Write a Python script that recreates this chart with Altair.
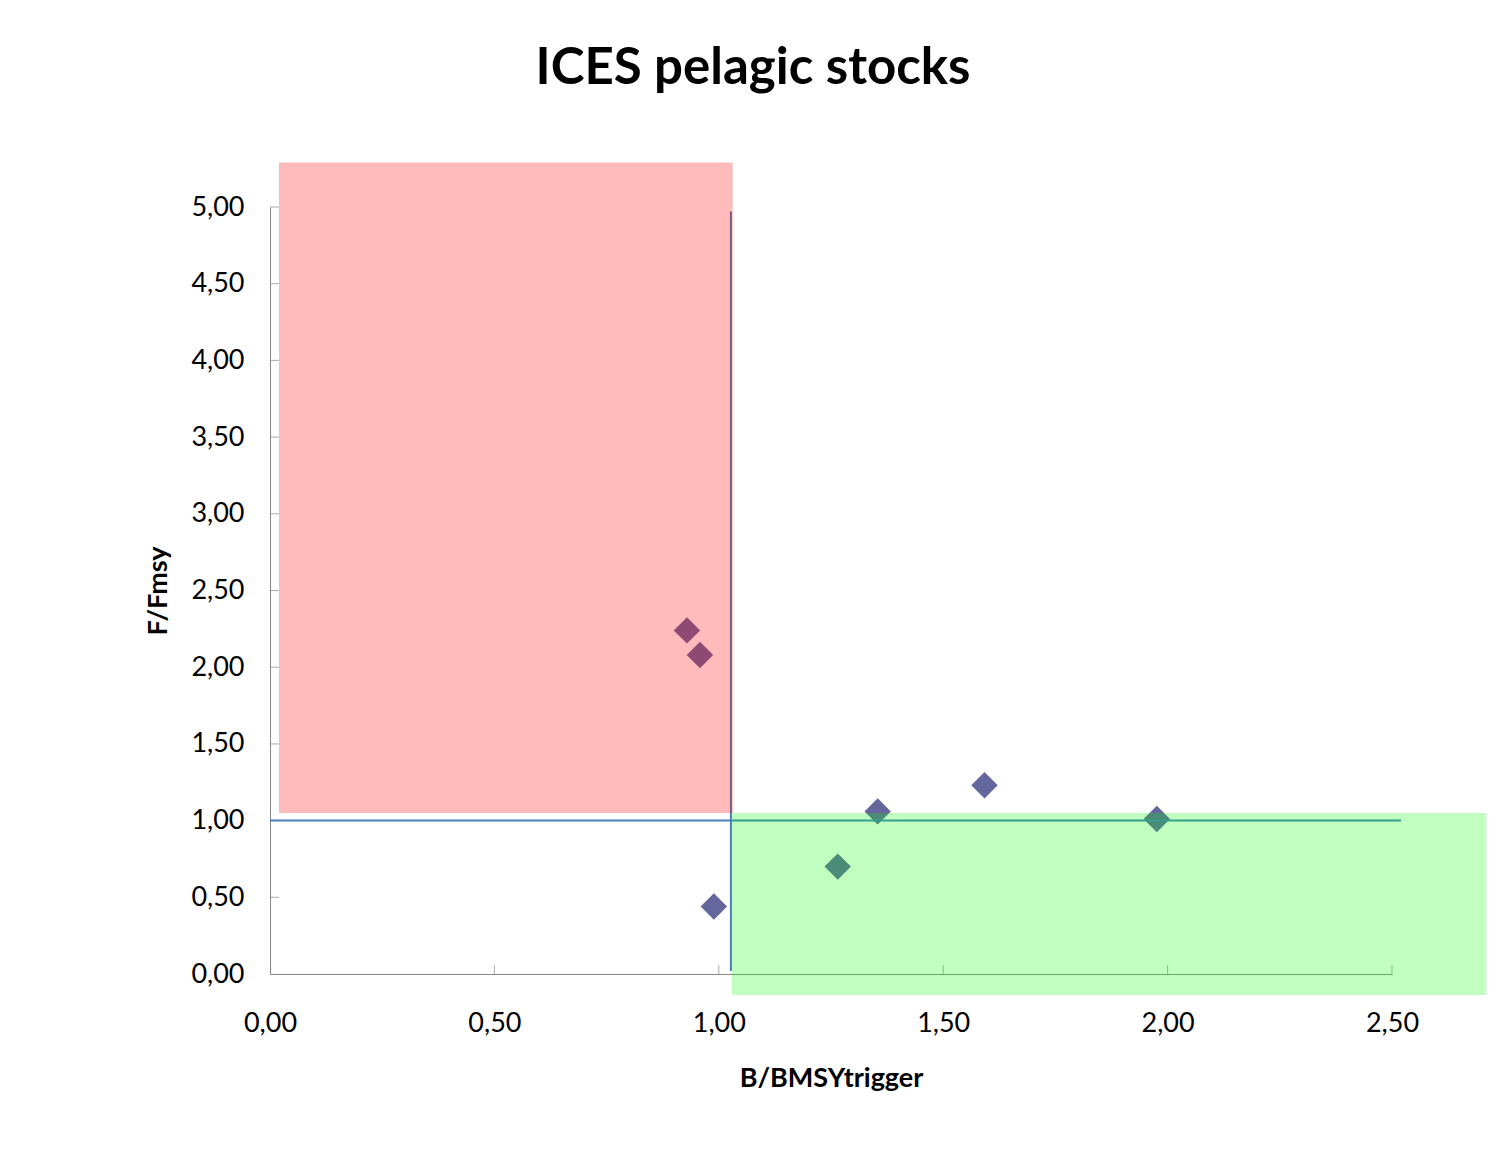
import altair as alt
import pandas as pd

# stock points (B/BMSYtrigger, F/Fmsy)
stock_b = [0.929, 0.958, 0.989, 1.265, 1.354, 1.592, 1.976]
stock_f = [2.24, 2.08, 0.44, 0.70, 1.06, 1.23, 1.01]

x_ticks = [0.0, 0.5, 1.0, 1.5, 2.0, 2.5]
y_ticks = [0.0, 0.5, 1.0, 1.5, 2.0, 2.5, 3.0, 3.5, 4.0, 4.5, 5.0]

# shaded zones
zone_x1 = [0.02, 1.029]
zone_x2 = [1.031, 2.71]
zone_y1 = [1.05, -0.137]
zone_y2 = [5.29, 1.05]
zone_color = ["#FF0000", "#00FF00"]
zone_opacity = [0.267, 0.247]

# reference lines
hline_y = 1.0
hline_x = [0.0, 2.52]
vline_x = 1.027
vline_y = [0.02, 4.97]

fmt = "replace(format(datum.value, '.2f'), '.', ',')"
FONT = "Lato"

xs = alt.Scale(domain=[0, 2.5], nice=False, zero=False)
ys = alt.Scale(domain=[0, 5], nice=False, zero=False)

pts = pd.DataFrame({"b": stock_b, "f": stock_f})
points = alt.Chart(pts).mark_point(
    shape="diamond", filled=True, size=700, color="#66669E", opacity=1, clip=False
).encode(
    x=alt.X("b:Q", scale=xs, axis=alt.Axis(
        title="B/BMSYtrigger", values=x_ticks, labelExpr=fmt, ticks=False, grid=False,
        labelFlush=False,
        domainColor="#868686", labelFont=FONT, labelFontSize=27, labelColor="#000000",
        labelPadding=36, titleFont=FONT, titleFontSize=27, titleFontWeight="bold",
        titleColor="#000000", titlePadding=29)),
    y=alt.Y("f:Q", scale=ys, axis=alt.Axis(
        title="F/Fmsy", values=y_ticks, labelExpr=fmt, ticks=False, grid=False,
        labelFlush=False,
        domainColor="#868686", labelFont=FONT, labelFontSize=27, labelColor="#000000",
        labelPadding=26, titleFont=FONT, titleFontSize=27, titleFontWeight="bold",
        titleColor="#000000", titlePadding=18)),
)

xt = alt.Chart(pd.DataFrame({"v": x_ticks[1:]})).mark_tick(
    orient="vertical", size=9, thickness=1, color="#868686", yOffset=-4.5, clip=False
).encode(x=alt.X("v:Q", scale=xs), y=alt.datum(0, scale=ys))

yt = alt.Chart(pd.DataFrame({"v": y_ticks[1:]})).mark_tick(
    orient="horizontal", size=9, thickness=1, color="#868686", xOffset=4.5, clip=False
).encode(y=alt.Y("v:Q", scale=ys), x=alt.datum(0, scale=xs))

hl = alt.Chart(pd.DataFrame({"x1": [hline_x[0]], "x2": [hline_x[1]], "y": [hline_y]})).mark_rule(
    color="#4A7EBB", strokeWidth=2, clip=False
).encode(x=alt.X("x1:Q", scale=xs), x2="x2:Q", y=alt.Y("y:Q", scale=ys))

vl = alt.Chart(pd.DataFrame({"x": [vline_x], "y1": [vline_y[0]], "y2": [vline_y[1]]})).mark_rule(
    color="#4A7EBB", strokeWidth=2, clip=False
).encode(x=alt.X("x:Q", scale=xs), y=alt.Y("y1:Q", scale=ys), y2="y2:Q")

zones = pd.DataFrame({"x1": zone_x1, "x2": zone_x2, "y1": zone_y1, "y2": zone_y2,
                      "c": zone_color, "o": zone_opacity})
rects = alt.Chart(zones).mark_rect(clip=False).encode(
    x=alt.X("x1:Q", scale=xs), x2="x2:Q",
    y=alt.Y("y1:Q", scale=ys), y2="y2:Q",
    color=alt.Color("c:N", scale=None, legend=None),
    opacity=alt.Opacity("o:Q", scale=None, legend=None),
)

chart = alt.layer(xt, yt, points, hl, vl, rects).properties(
    width=1122, height=767,
    autosize=alt.AutoSizeParams(type="none"),
    padding={"left": 262, "top": 199, "right": 99, "bottom": 193},
    background="#FFFFFF",
    title=alt.TitleParams(
        "ICES pelagic stocks", font=FONT, fontSize=51, fontWeight="bold", color="#000000",
        anchor="middle", dx=-78, offset=28, baseline="alphabetic"),
).configure_view(stroke=None)

chart.save("out.html", embed_options={"renderer": "svg", "actions": False})
